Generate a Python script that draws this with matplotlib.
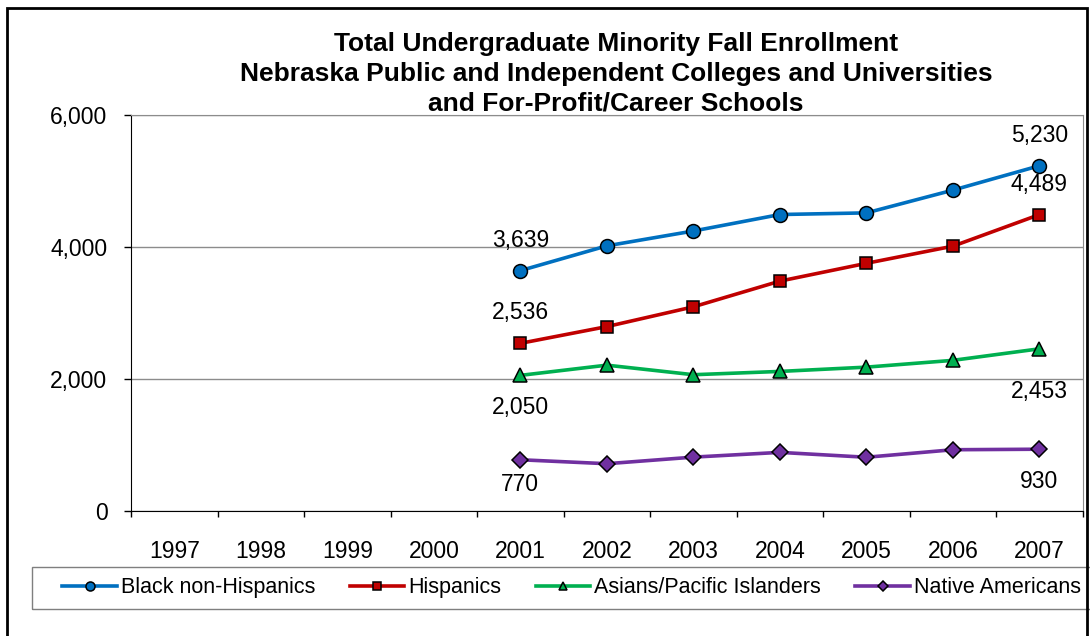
import matplotlib.pyplot as plt
from matplotlib.patches import Rectangle
from matplotlib.ticker import FuncFormatter, FixedLocator

plt.rcParams['font.family'] = ['Liberation Sans', 'DejaVu Sans']

years = ['1997', '1998', '1999', '2000', '2001', '2002', '2003', '2004', '2005', '2006', '2007']
data_years = ['2001', '2002', '2003', '2004', '2005', '2006', '2007']

black = [3639, 4015, 4240, 4490, 4515, 4860, 5230]
hispanic = [2536, 2790, 3090, 3480, 3750, 4010, 4489]
asian = [2050, 2205, 2060, 2110, 2175, 2278, 2453]
native = [770, 710, 810, 882, 808, 922, 930]

names = ['Black non-Hispanics', 'Hispanics', 'Asians/Pacific Islanders', 'Native Americans']
series = [black, hispanic, asian, native]
colors = ['#0070C0', '#C00000', '#00B050', '#7030A0']
markers = ['o', 's', '^', 'D']
msizes = [10, 8, 9.5, 8.5]
# label offsets (points) for first / last value
first_off = [22, 22, -23, -18]
last_off = [22, 22, -31, -23]

title = ('Total Undergraduate Minority Fall Enrollment\n'
         'Nebraska Public and Independent Colleges and Universities\n'
         'and For-Profit/Career Schools')

fig = plt.figure(figsize=(10.9, 6.36), dpi=100)
ax = fig.add_axes([0.1202, 0.1973, 0.8731, 0.6219])

xpos = [years.index(y) for y in data_years]
for vals, name, c, m, ms in zip(series, names, colors, markers, msizes):
    ax.plot(xpos, vals, color=c, lw=2.6, marker=m, ms=ms, mfc=c, mec='black',
            mew=1.1, label=name, zorder=3)

for vals, fo, lo in zip(series, first_off, last_off):
    ax.annotate(f'{vals[0]:,}', (xpos[0], vals[0]), xytext=(0, fo), textcoords='offset points',
                ha='center', va='center', fontsize=16.5)
    ax.annotate(f'{vals[-1]:,}', (xpos[-1], vals[-1]), xytext=(0, lo), textcoords='offset points',
                ha='center', va='center', fontsize=16.5)

ax.set_xlim(-0.5, len(years) - 0.5)
ax.set_ylim(0, 6000)
ax.set_yticks([0, 2000, 4000, 6000])
ax.yaxis.set_major_formatter(FuncFormatter(lambda v, p: f'{int(v):,}'))
ax.set_xticks(range(len(years)))
ax.set_xticklabels(years)
ax.xaxis.set_minor_locator(FixedLocator([i - 0.5 for i in range(len(years) + 1)]))
ax.tick_params(axis='x', which='major', length=0, pad=21, labelsize=16.5)
ax.tick_params(axis='x', which='minor', length=4, width=1, color='black')
ax.tick_params(axis='y', length=5, width=1, pad=12, labelsize=16.5)

ax.grid(axis='y', color='#8c8c8c', lw=1)
ax.set_axisbelow(True)
for s in ['top', 'right']:
    ax.spines[s].set_color('#8c8c8c')
for s in ['left', 'bottom']:
    ax.spines[s].set_color('black')

fig.text(0.565, 0.949, title, ha='center', va='top', fontsize=19, fontweight='bold',
         linespacing=1.3)

leg = fig.legend(loc='center left', bbox_to_anchor=(0.057, 0.0755), ncol=4, fontsize=15.5,
                 handlelength=2.55, handletextpad=0.17, columnspacing=1.6, borderpad=0,
                 borderaxespad=0, markerscale=0.65, frameon=False)

# legend box
fig.patches.append(Rectangle((0.029, 0.0425), 1.0, 0.066, transform=fig.transFigure,
                             fill=False, edgecolor='#7f7f7f', lw=1))
# outer chart border
fig.patches.append(Rectangle((0.006, -0.02), 0.991, 1.007, transform=fig.transFigure,
                             fill=False, edgecolor='black', lw=2))

fig.savefig('out.png', dpi=100)
